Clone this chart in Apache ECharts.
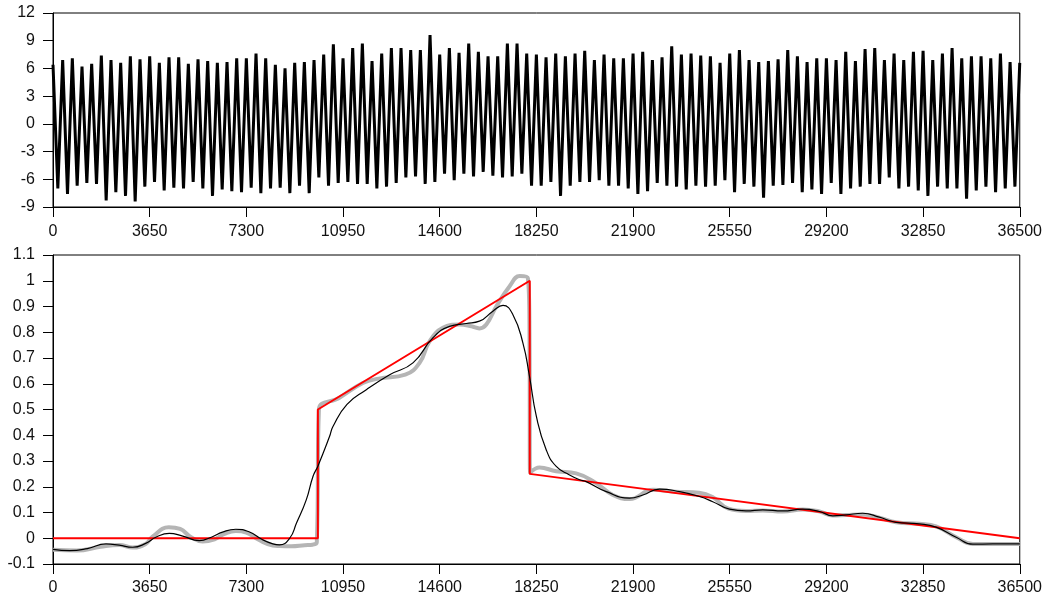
<!DOCTYPE html>
<html>
<head>
<meta charset="utf-8">
<script src="https://cdn.jsdelivr.net/npm/echarts@6/dist/echarts.min.js"></script>
<style>html,body{margin:0;padding:0;background:#fff}#c{width:1045px;height:601px}</style>
</head>
<body>
<div id="c"></div>
<script>
// ---- Top panel: cycle peaks and troughs (period 365) ----
const period = 365;
const peaks = [6.4,6.9,7.1,6.2,6.5,7.4,6.9,6.6,7.3,7.0,
  7.3,6.6,7.2,7.2,6.5,7.0,6.8,6.6,6.7,7.1,
  7.1,7.6,7.1,6.4,6.0,6.6,6.7,6.9,7.5,8.6,
  7.1,8.2,8.7,6.8,7.6,8.2,8.2,8.0,8.0,9.6,
  7.5,8.2,7.7,8.7,7.8,7.3,7.3,8.7,8.7,7.6,
  7.5,7.2,7.6,7.3,7.6,7.9,6.9,7.5,7.1,7.1,
  7.6,7.8,6.9,7.2,8.4,7.5,7.6,7.4,7.3,6.6,
  7.6,8.0,6.9,6.7,6.8,7.0,8.0,7.3,6.7,7.1,
  7.1,6.9,7.8,6.8,8.1,8.2,6.9,7.6,6.9,7.8,
  7.9,6.9,7.6,8.2,7.1,7.3,7.3,7.1,7.6,6.7,6.6];
const troughs = [-7.0,-7.6,-6.7,-6.4,-6.5,-8.3,-7.4,-7.8,-8.4,-6.8,
  -6.3,-7.2,-6.9,-7.0,-6.3,-7.0,-7.8,-7.1,-7.3,-7.4,
  -6.9,-7.5,-7.0,-6.9,-7.5,-6.7,-7.5,-5.8,-6.7,-6.4,
  -6.3,-6.5,-6.5,-7.0,-6.8,-6.4,-5.8,-5.7,-6.5,-6.3,
  -5.4,-6.1,-5.4,-5.7,-5.2,-5.6,-5.8,-5.7,-5.4,-6.7,
  -6.7,-6.3,-7.8,-6.7,-6.3,-6.3,-6.1,-6.7,-6.7,-7.0,
  -7.6,-7.3,-6.4,-6.7,-6.8,-7.1,-6.7,-6.8,-6.7,-6.1,
  -7.4,-6.5,-6.8,-8.0,-6.7,-6.6,-6.4,-7.4,-7.1,-7.6,
  -6.4,-7.6,-7.0,-6.8,-6.5,-6.5,-5.8,-7.0,-6.8,-7.2,
  -7.8,-6.8,-7.0,-7.0,-8.1,-7.2,-6.8,-7.4,-7.0,-6.8];

const xTicks = [0,3650,7300,10950,14600,18250,21900,25550,29200,32850,36500];

// ---- Bottom panel ----
const redX = [0,10000,10000,18000,18000,36500];
const redY = [0,0,0.5,1.0,0.25,0];

const grayX = [0,900,1800,2500,3010,3500,3760,4370,4800,5200,5650,6100,6500,6900,7300,7800,8300,8550,9000,9500,9800,9960,10040,
  10800,11700,12300,13300,13840,14220,14720,15350,15800,16100,16360,16740,17240,17620,17930,17990,18010,18370,19000,19750,
  20500,21140,21770,22650,23500,24400,24900,25500,26170,26800,27550,28310,28940,29440,29950,30570,31200,31830,32710,33340,34100,34730,35480,36500];
const grayY = [-0.045,-0.048,-0.033,-0.026,-0.036,-0.022,0.006,0.043,0.036,0.005,-0.013,-0.004,0.018,0.028,0.022,-0.008,-0.028,-0.03,-0.031,-0.027,-0.025,-0.015,0.5,
  0.545,0.603,0.62,0.635,0.681,0.765,0.817,0.83,0.823,0.815,0.83,0.901,0.979,1.018,1.01,0.8,0.255,0.275,0.26,0.252,
  0.214,0.168,0.152,0.188,0.181,0.177,0.16,0.115,0.106,0.108,0.104,0.112,0.104,0.088,0.09,0.092,0.08,0.062,0.056,0.046,0.004,-0.022,-0.022,-0.022];

const blackX = [0,630,1300,2000,2500,3010,3500,3900,4390,4900,5520,6000,6400,6900,7400,7900,8300,8550,8935,9190,9565,9815,10000,10440,10570,11100,
  11830,12710,13590,14340,14970,15600,16100,16610,16990,17360,17740,17990,18250,18620,19000,19500,19880,
  20130,20890,21770,22270,22900,23660,24410,24910,25540,26170,26800,27550,28310,28940,29440,29950,30570,31200,31830,32710,33340,34100,34730,35480,36500];
const blackY = [-0.043,-0.048,-0.04,-0.022,-0.027,-0.035,-0.02,0.005,0.019,0.008,-0.009,0.005,0.024,0.035,0.025,-0.005,-0.022,-0.026,0.0,0.058,0.15,0.24,0.28,0.395,0.434,0.52,
  0.577,0.635,0.681,0.778,0.823,0.834,0.843,0.882,0.904,0.869,0.759,0.629,0.473,0.344,0.279,0.246,0.227,
  0.22,0.181,0.156,0.168,0.191,0.181,0.162,0.142,0.113,0.106,0.11,0.106,0.113,0.104,0.087,0.091,0.097,0.082,0.062,0.056,0.043,0.004,-0.023,-0.022,-0.022];

// ---- build series data ----
const topData = [];
for (let k = 0; k < peaks.length; k++) {
  topData.push([k * period, peaks[k]]);
  if (k < troughs.length) topData.push([k * period + period / 2, troughs[k]]);
}
const zip = (xs, ys) => xs.map((x, i) => [x, ys[i]]);

const FONT = 'Liberation Sans, Arial, sans-serif';
const txt = { color: '#111', fontSize: 16, fontFamily: FONT };
const axLine = { show: true, onZero: false, lineStyle: { color: '#000', width: 1 } };
const tick = { show: true, length: 10, inside: false, lineStyle: { color: '#000', width: 1 } };
const xFmt = v => String(v);

const chart = echarts.init(document.getElementById('c'), null, { renderer: 'canvas' });
chart.setOption({
  animation: false,
  backgroundColor: '#fff',
  grid: [
    { left: 53, right: 25, top: 13, height: 194, show: true, borderColor: '#000', borderWidth: 1, backgroundColor: 'transparent' },
    { left: 53, right: 25, top: 255, height: 309, show: true, borderColor: '#000', borderWidth: 1, backgroundColor: 'transparent' }
  ],
  xAxis: [
    { type: 'value', gridIndex: 0, min: 0, max: 36500, interval: 3650, axisLine: axLine, axisTick: tick,
      axisLabel: Object.assign({ margin: 17, formatter: xFmt }, txt), splitLine: { show: false } },
    { type: 'value', gridIndex: 1, min: 0, max: 36500, interval: 3650, axisLine: axLine, axisTick: tick,
      axisLabel: Object.assign({ margin: 16, formatter: xFmt }, txt), splitLine: { show: false } }
  ],
  yAxis: [
    { type: 'value', gridIndex: 0, min: -9, max: 12, interval: 3, axisLine: axLine, axisTick: tick,
      axisLabel: Object.assign({ margin: 18 }, txt), splitLine: { show: false } },
    { type: 'value', gridIndex: 1, min: -0.1, max: 1.1, interval: 0.1, axisLine: axLine, axisTick: tick,
      axisLabel: Object.assign({ margin: 18, formatter: v => String(Math.round(v * 10) / 10) }, txt), splitLine: { show: false } }
  ],
  series: [
    { type: 'line', xAxisIndex: 0, yAxisIndex: 0, data: topData, showSymbol: false, symbol: 'none',
      lineStyle: { color: '#000', width: 3, join: 'miter' } },
    { type: 'line', xAxisIndex: 1, yAxisIndex: 1, data: zip(grayX, grayY), symbol: 'none', smooth: 0.45,
      lineStyle: { color: '#b5b5b5', width: 4 } },
    { type: 'line', xAxisIndex: 1, yAxisIndex: 1, data: zip(redX, redY), symbol: 'none',
      lineStyle: { color: '#ff0000', width: 2 } },
    { type: 'line', xAxisIndex: 1, yAxisIndex: 1, data: zip(blackX, blackY), symbol: 'none', smooth: 0.5,
      lineStyle: { color: '#000', width: 1.2 } }
  ]
});
</script>
</body>
</html>
